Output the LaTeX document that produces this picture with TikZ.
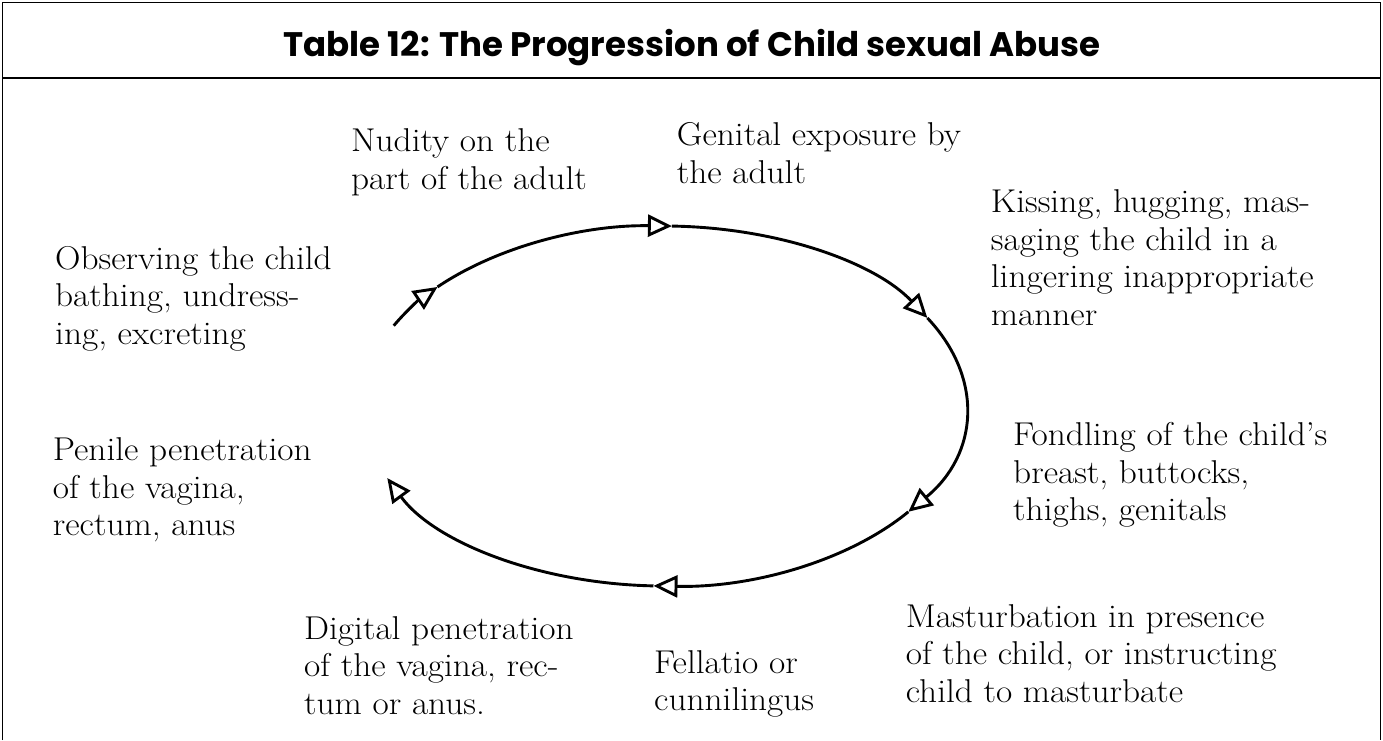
\documentclass[tikz,border=0pt]{standalone}
\usepackage{fontspec}
\setmainfont{Latin Modern Roman}[FakeStretch=1.07]
\newfontfamily\titlefont{Poppins}
\usetikzlibrary{arrows.meta}
\tikzset{
  lbl/.style={anchor=base west, align=left, inner sep=0pt, font=\fontsize{33}{37.5}\selectfont},
  ring/.style={line width=2.9pt, -{Triangle[length=24pt,width=22pt,fill=white]}},
  frameline/.style={line width=1.6pt}
}
\begin{document}
\begin{tikzpicture}[x=1pt,y=1pt]
\useasboundingbox (0,0) rectangle (1383,740);
% frame
\draw[frameline] (2.5,0) -- (2.5,737.5) -- (1380.5,737.5) -- (1380.5,0);
\draw[frameline] (2.5,662) -- (1380.5,662);
\node[anchor=base, inner sep=0pt, font=\titlefont\bfseries\fontsize{34}{40}\selectfont] (title) at (692,683) {Table 12: The Progression of Child sexual Abuse};
% cycle
\coordinate (c) at (664,334);
\coordinate (p0) at ([shift={(153.5:302pt and 180pt)}]c);
\draw[ring] (p0) arc[start angle=153.5, end angle=138.6, x radius=302pt, y radius=180pt] coordinate (p1);
\draw[ring] (p1) arc[start angle=138.6, end angle=88.5, x radius=302pt, y radius=180pt] coordinate (p2);
\draw[ring] (p2) arc[start angle=88.5, end angle=29.3, x radius=302pt, y radius=180pt] coordinate (p3);
\draw[ring] (p3) arc[start angle=29.3, end angle=-36, x radius=302pt, y radius=180pt] coordinate (p4);
\draw[ring] (p4) arc[start angle=-36, end angle=-92, x radius=302pt, y radius=180pt] coordinate (p5);
\draw[ring] (p5) arc[start angle=-92, end angle=-156.4, x radius=302pt, y radius=180pt] coordinate (p6);
% labels (anchored at the baseline of the last line)
\node[lbl] (nudity) at (351,550.8) {Nudity on the\\part of the adult};
\node[lbl] (genital) at (676.7,556.8) {Genital exposure by\\the adult};
\node[lbl] (kissing) at (990.7,414.8) {Kissing, hugging, mas-\\saging the child in a\\lingering inappropriate\\manner};
\node[lbl] (observing) at (55,395.7) {Observing the child\\bathing, undress-\\ing, excreting};
\node[lbl] (fondling) at (1013,219.2) {Fondling of the child’s\\breast, buttocks,\\thighs, genitals};
\node[lbl] (penile) at (52.7,204.3) {Penile penetration\\of the vagina,\\rectum, anus};
\node[lbl] (digital) at (304,26) {Digital penetration\\of the vagina, rec-\\tum or anus.};
\node[lbl] (fellatio) at (654,29.5) {Fellatio or\\cunnilingus};
\node[lbl] (mastur) at (905.6,38) {Masturbation in presence\\of the child, or instructing\\child to masturbate};
\end{tikzpicture}
\end{document}
